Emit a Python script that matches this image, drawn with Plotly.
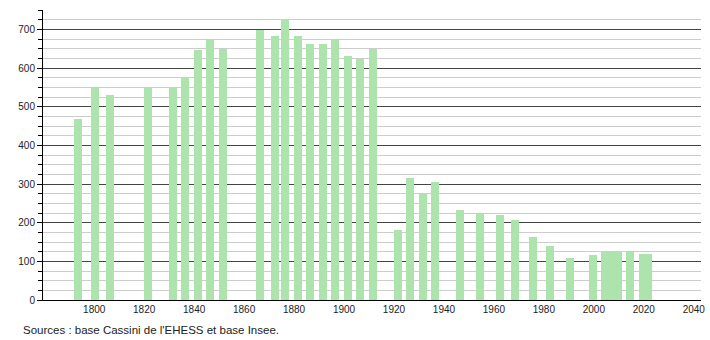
import plotly.graph_objects as go

years = [1793, 1800, 1806, 1821, 1831, 1836, 1841, 1846, 1851, 1866, 1872, 1876,
         1881, 1886, 1891, 1896, 1901, 1906, 1911, 1921, 1926, 1931, 1936, 1946,
         1954, 1962, 1968, 1975, 1982, 1990, 1999, 2004, 2006, 2009, 2014, 2019, 2021]
population = [467, 549, 529, 549, 550, 578, 646, 672, 650, 697, 682, 728,
              684, 661, 661, 675, 630, 624, 648, 182, 316, 274, 305, 233,
              225, 220, 207, 163, 140, 109, 117, 127, 127, 127, 124, 118, 118]
x_tick_labels = [1800, 1820, 1840, 1860, 1880, 1900, 1920, 1940, 1960, 1980, 2000, 2020, 2040]
source_text = "Sources : base Cassini de l'EHESS et base Insee."

FONT = "Liberation Sans, Arial, sans-serif"

fig = go.Figure()
fig.add_trace(go.Bar(
    x=years, y=population,
    width=3.2, offset=-1.1,
    marker=dict(color="#ade3ad", line=dict(width=0)),
    hoverinfo="x+y",
))

fig.update_layout(
    width=710, height=340,
    margin=dict(l=43, r=8.5, t=10, b=40, autoexpand=False),
    plot_bgcolor="white", paper_bgcolor="white",
    showlegend=False,
    font=dict(family=FONT, size=10, color="#222222"),
    bargap=0,
)
fig.update_xaxes(
    range=[1779.5, 2042.9],
    tickmode="array", tickvals=x_tick_labels, ticktext=[str(v) for v in x_tick_labels],
    showgrid=False, zeroline=False,
    showline=True, linecolor="black", linewidth=1,
    ticks="", automargin=False,
    tickfont=dict(family=FONT, size=10, color="#222222"),
)
fig.update_yaxes(
    range=[0, 750],
    tick0=0, dtick=100,
    showgrid=True, gridcolor="#444444", gridwidth=1,
    zeroline=False,
    showline=True, linecolor="black", linewidth=1,
    ticks="outside", ticklen=5, tickcolor="black",
    minor=dict(dtick=25, tick0=0, showgrid=True, gridcolor="#cccccc", gridwidth=1,
               ticks="outside", ticklen=4, tickcolor="black"),
    automargin=False,
    tickfont=dict(family=FONT, size=10, color="#222222"),
)

fig.add_annotation(
    text=source_text, xref="paper", yref="paper",
    x=(20.7 - 43) / 658.5, y=(300 - 330) / 290,
    xanchor="left", yanchor="middle", showarrow=False,
    font=dict(family=FONT, size=11.5, color="#222222"),
)

fig.write_html("out.html")
